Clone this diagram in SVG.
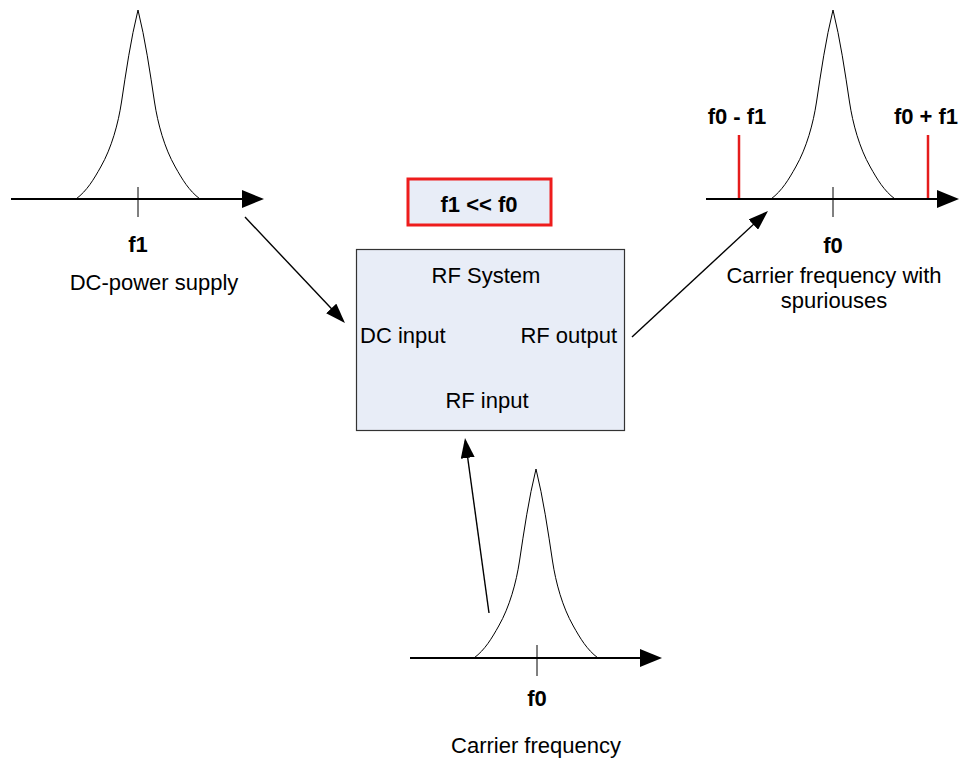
<svg xmlns="http://www.w3.org/2000/svg" xmlns:xlink="http://www.w3.org/1999/xlink" width="977" height="762" viewBox="0 0 977 762">
<style>
text{font-family:"Liberation Sans",Arial,sans-serif;font-size:22px;fill:#000}
.b{font-weight:bold}
.m{text-anchor:middle}
.axis{stroke:#000;stroke-width:2.2;fill:none}
.tick{stroke:#000;stroke-width:1;fill:none}
.bell{stroke:#000;stroke-width:1;fill:none}
.spur{stroke:#e51c1c;stroke-width:2.5;fill:none}
.conn{stroke:#000;stroke-width:1.4;fill:none}
</style>
<defs>
<marker id="axHead" markerUnits="userSpaceOnUse" markerWidth="22" markerHeight="20" viewBox="0 0 22 20" refX="19" refY="10" orient="auto"><path d="M0,1 L22,10 L0,19 z" fill="#000"/></marker>
<marker id="arr" markerUnits="userSpaceOnUse" markerWidth="20" markerHeight="14" viewBox="0 0 20 14" refX="17" refY="7" orient="auto"><path d="M0,0 L20,7 L0,14 z" fill="#000"/></marker>
<path id="bellShape" d="M-62,0 C-50.8,-8.4 -44.2,-19.8 -37.3,-32 C-26.4,-51.1 -19.8,-75.2 -16.5,-97 C-12.06,-126.7 -7.2,-159.9 0,-189 C7.2,-159.9 12.06,-126.7 16.5,-97 C19.8,-75.2 26.4,-51.1 37.3,-32 C44.2,-19.8 50.8,-8.4 62,0"/>
</defs>

<g id="dc-spectrum">
<use xlink:href="#bellShape" href="#bellShape" class="bell" transform="translate(138,199)"/>
<line class="axis" x1="11" y1="199" x2="261" y2="199" marker-end="url(#axHead)"/>
<line class="tick" x1="138" y1="187" x2="138" y2="217"/>
<text class="b m" x="138" y="252">f1</text>
<text class="m" x="154" y="290">DC-power supply</text>
</g>

<g id="output-spectrum">
<use xlink:href="#bellShape" href="#bellShape" class="bell" transform="translate(833,199)"/>
<line class="spur" x1="739" y1="135" x2="739" y2="199"/>
<line class="spur" x1="928" y1="135" x2="928" y2="199"/>
<line class="axis" x1="706" y1="199" x2="956" y2="199" marker-end="url(#axHead)"/>
<line class="tick" x1="833" y1="187" x2="833" y2="217"/>
<text class="b m" x="737" y="124">f0 - f1</text>
<text class="b m" x="926" y="124">f0 + f1</text>
<text class="b m" x="833" y="253">f0</text>
<text class="m" x="834" y="283">Carrier frequency with</text>
<text class="m" x="834" y="308">spuriouses</text>
</g>

<g id="carrier-spectrum">
<use xlink:href="#bellShape" href="#bellShape" class="bell" transform="translate(536,658)"/>
<line class="axis" x1="410" y1="658" x2="659" y2="658" marker-end="url(#axHead)"/>
<line class="tick" x1="537" y1="645" x2="537" y2="676"/>
<text class="b m" x="537" y="706">f0</text>
<text class="m" x="536" y="753">Carrier frequency</text>
</g>

<g id="condition">
<rect x="408" y="179" width="143" height="46" fill="#e8edf7" stroke="#ee1c1c" stroke-width="3"/>
<text class="b m" x="479" y="212">f1 &lt;&lt; f0</text>
</g>

<g id="rf-system">
<rect x="356.5" y="249.5" width="268" height="181" fill="#e8edf7" stroke="#333" stroke-width="1.2"/>
<text class="m" x="486" y="283">RF System</text>
<text x="360" y="343">DC input</text>
<text x="617" y="343" text-anchor="end">RF output</text>
<text class="m" x="487" y="408">RF input</text>
</g>

<g id="connectors">
<line class="conn" x1="245" y1="217" x2="342.9" y2="320.8" marker-end="url(#arr)"/>
<line class="conn" x1="632" y1="337" x2="765.8" y2="213" marker-end="url(#arr)"/>
<line class="conn" x1="489" y1="613" x2="465.4" y2="441" marker-end="url(#arr)"/>
</g>
</svg>
